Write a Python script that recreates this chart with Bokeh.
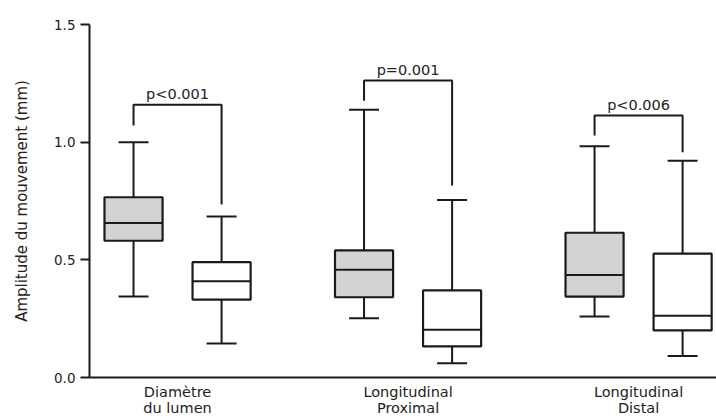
from bokeh.plotting import figure
from bokeh.models import Range1d, FixedTicker, NumeralTickFormatter
from bokeh.embed import file_html
from bokeh.resources import INLINE
from bokeh.core.properties import value

# ---- data ----
groups = ["Diamètre\ndu lumen", "Longitudinal\nProximal", "Longitudinal\nDistal"]
# gray series (first box of each group)
upper_g = [1.000, 1.138, 0.983]
q3_g = [0.766, 0.540, 0.615]
med_g = [0.657, 0.458, 0.436]
q1_g = [0.581, 0.341, 0.344]
lower_g = [0.344, 0.252, 0.259]
# white series (second box of each group)
upper_w = [0.684, 0.754, 0.921]
q3_w = [0.490, 0.370, 0.526]
med_w = [0.409, 0.203, 0.262]
q1_w = [0.331, 0.132, 0.200]
lower_w = [0.144, 0.061, 0.091]
# significance brackets
bracket_top = [1.159, 1.262, 1.113]
bracket_left_end = [1.071, 1.176, 1.028]
bracket_right_end = [0.735, 0.816, 0.957]
p_labels = ["p<0.001", "p=0.001", "p<0.006"]
y_ticks = [0.0, 0.5, 1.0, 1.5]

# ---- layout constants ----
OFF = 0.191      # box offset from group centre (group units)
BW = 0.252       # box width
CW = 0.13        # cap width
LC = "#1a1a1a"
TC = "#222222"
FONT = "DejaVu Sans"

p = figure(width=716, height=419, output_backend="svg", toolbar_location=None,
           x_range=Range1d(-0.382, 2.338), y_range=Range1d(0, 1.5),
           min_border_left=89, min_border_right=0, min_border_top=24, min_border_bottom=42)
p.outline_line_color = None
p.xgrid.visible = False
p.ygrid.visible = False
p.background_fill_color = "white"
p.border_fill_color = "white"

def draw(xs, up, q3, med, q1, lo, fill):
    p.segment(x0=xs, y0=q3, x1=xs, y1=up, line_color=LC, line_width=2)
    p.segment(x0=xs, y0=q1, x1=xs, y1=lo, line_color=LC, line_width=2)
    p.segment(x0=[x - CW / 2 for x in xs], y0=up, x1=[x + CW / 2 for x in xs], y1=up,
              line_color=LC, line_width=2)
    p.segment(x0=[x - CW / 2 for x in xs], y0=lo, x1=[x + CW / 2 for x in xs], y1=lo,
              line_color=LC, line_width=2)
    p.vbar(x=xs, width=BW, top=q3, bottom=q1, fill_color=fill, line_color=LC, line_width=2.2)
    p.segment(x0=[x - BW / 2 for x in xs], y0=med, x1=[x + BW / 2 for x in xs], y1=med,
              line_color=LC, line_width=2)

gi = list(range(len(groups)))
xg = [i - OFF for i in gi]
xw = [i + OFF for i in gi]
draw(xg, upper_g, q3_g, med_g, q1_g, lower_g, "#d3d3d3")
draw(xw, upper_w, q3_w, med_w, q1_w, lower_w, "white")

# brackets
xs_b = [[a, a, b, b] for a, b in zip(xg, xw)]
ys_b = [[l, t, t, r] for l, t, r in zip(bracket_left_end, bracket_top, bracket_right_end)]
p.multi_line(xs=xs_b, ys=ys_b, line_color=LC, line_width=2)
p.text(x=gi, y=bracket_top, text=p_labels, text_align="center", text_baseline="alphabetic",
       y_offset=-11, text_font=value(FONT), text_font_size="14.5px", text_color=TC)

# axes
yax = p.yaxis[0]
yax.ticker = FixedTicker(ticks=y_ticks)
yax.formatter = NumeralTickFormatter(format="0.0")
yax.minor_tick_line_color = None
yax.major_tick_in = 0
yax.major_tick_out = 9
yax.major_tick_line_width = 2
yax.axis_line_width = 2
yax.axis_line_color = LC
yax.major_tick_line_color = LC
yax.major_label_text_font = FONT
yax.major_label_text_font_size = "13.5px"
yax.major_label_text_color = TC
yax.major_label_standoff = 5
yax.axis_label = "Amplitude du mouvement (mm)"
yax.axis_label_text_font = FONT
yax.axis_label_text_font_style = "normal"
yax.axis_label_text_font_size = "15px"
yax.axis_label_text_color = TC
yax.axis_label_standoff = 20

xax = p.xaxis[0]
xax.ticker = FixedTicker(ticks=gi)
xax.major_label_overrides = {i: g for i, g in zip(gi, groups)}
xax.minor_tick_line_color = None
xax.major_tick_line_color = None
xax.major_tick_in = 0
xax.major_tick_out = 0
xax.axis_line_width = 2
xax.axis_line_color = LC
xax.major_label_text_font = FONT
xax.major_label_text_font_size = "14.5px"
xax.major_label_text_line_height = 1.05
xax.major_label_text_color = TC
xax.major_label_standoff = 6

open("out.html", "w").write(file_html(p, INLINE))
